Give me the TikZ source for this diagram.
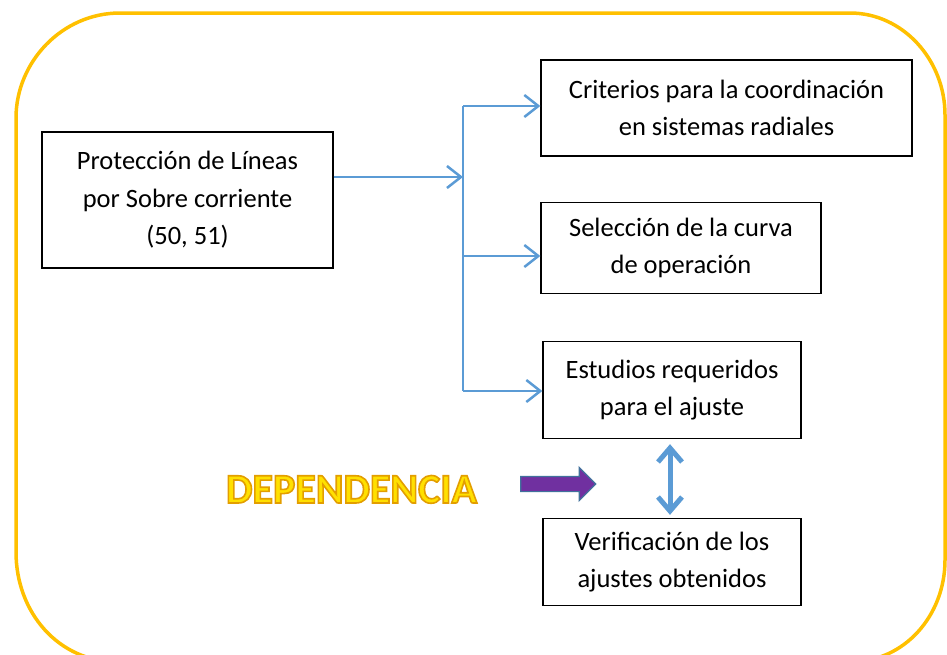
\documentclass[tikz,border=0pt]{standalone}
\usepackage{fontspec}
\setmainfont{Carlito}
\usetikzlibrary{arrows.meta,shapes.arrows}
\definecolor{marco}{HTML}{FFC000}
\definecolor{azul}{HTML}{5B9BD5}
\definecolor{morado}{HTML}{7030A0}
\definecolor{bordemorado}{HTML}{41719C}
\definecolor{amarillo}{HTML}{FFE000}
\newcommand{\contorno}[1]{\special{pdf:literal direct 2 Tr 1.6 w 0.89 0.62 0 RG}#1\special{pdf:literal direct 0 Tr}}

\begin{document}
\begin{tikzpicture}
    [x=1pt,y=-1pt,
     caja/.style={draw=black,line width=1.3pt,inner sep=0pt,align=center,font=\fontsize{26.5}{37.5}\selectfont},
     flecha/.style={draw=azul,line width=2.5pt,-{Straight Barb[length=14pt,width=22pt]}},
     doble/.style={draw=azul,line width=5pt,{Straight Barb[length=14pt,width=24pt]}-{Straight Barb[length=14pt,width=24pt]}},
     texto/.style={anchor=base,inner sep=0pt,font=\fontsize{42}{42}\selectfont\bfseries}]
    \useasboundingbox (0,0) rectangle (947,654);
    \draw[marco,line width=3.5pt] (120,13) -- (850,13) .. controls (903,13) and (945,60) .. (945,115)
      -- (945,560) .. controls (945,615) and (905,662) .. (850,662) -- (118,662)
      .. controls (58,662) and (16,612) .. (16,552) -- (16,118) .. controls (16,62) and (62,13) .. (120,13) -- cycle;

    \node[caja,minimum width=291pt,minimum height=136pt] (prot) at (187.5,200) {Protección de Líneas\\por Sobre corriente\\(50, 51)};
    \node[caja,minimum width=371pt,minimum height=96pt] (crit) at (726.5,108) {Criterios para la coordinación\\en sistemas radiales};
    \node[caja,minimum width=280pt,minimum height=91pt] (sel) at (681,248) {Selección de la curva\\de operación};
    \node[caja,minimum width=258pt,minimum height=97pt] (est) at (672,390) {Estudios requeridos\\para el ajuste};
    \node[caja,minimum width=258pt,minimum height=87pt] (ver) at (672,562) {Verificación de los\\ajustes obtenidos};

    \coordinate (b0) at (463,177);
    \coordinate (b1) at (463,106);
    \coordinate (b2) at (463,256);
    \coordinate (b3) at (463,391);

    \draw[flecha] (prot.east |- b0) -- (b0);
    \draw[azul,line width=2.5pt] (b1) -- (b3);
    \draw[flecha] (b1) -- (b1 -| crit.west);
    \draw[flecha] (b2) -- (b2 -| sel.west);
    \draw[flecha] (b3) -- (b3 -| est.west);
    \draw[doble] ([xshift=-2pt,yshift=-5pt]est.south) -- ([xshift=-2pt,yshift=3pt]ver.north);

    \node[single arrow,fill=morado,draw=bordemorado,line width=1.2pt,inner xsep=0pt,inner ysep=7pt,
      minimum height=75pt,single arrow head extend=9pt] (flechadep) at (554.5,484) {};

    \node[texto,text=amarillo] (dep) at (351.5,503) {\contorno{DEPENDENCIA}};
  \end{tikzpicture}
\end{document}
